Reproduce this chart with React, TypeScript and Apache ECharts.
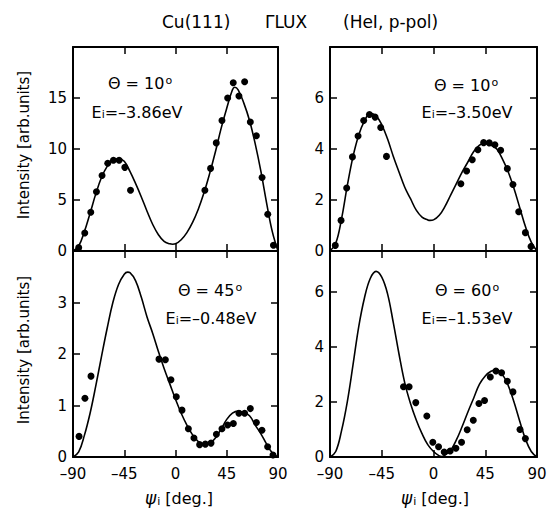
import React, { useEffect, useRef } from "react";
import * as echarts from "echarts";

// ---------- data ----------
const xTickValues = [-90, -45, 0, 45, 90];

// Panel (a): Θ = 10°, Ei = -3.86 eV
const dotsA: number[][] = [
  [-85, 0.33], [-79.7, 1.76], [-74.4, 3.8], [-69.4, 5.8], [-64.5, 7.4], [-59.5, 8.6],
  [-54.5, 8.9], [-49.5, 8.9], [-44.5, 8.2], [-39.5, 5.95],
  [25.8, 5.95], [30.8, 8.1], [35.8, 10.6], [40.8, 12.8], [45.8, 15.0], [50.7, 16.5],
  [55.7, 15.2], [60.7, 16.6], [65.7, 12.65], [71, 11.3], [76, 7.2], [81, 3.6], [86, 0.56],
];
const curveA: number[][] = [
  [-90, 0], [-85, 0.5], [-80, 1.9], [-75, 3.7], [-70, 5.6], [-65, 7.2], [-60, 8.3], [-55, 8.9],
  [-50, 9.05], [-45, 8.8], [-40, 7.8], [-35, 6.6], [-30, 5.3], [-25, 3.9], [-20, 2.6], [-15, 1.6],
  [-10, 0.95], [-5, 0.7], [-2.5, 0.66], [0, 0.7], [5, 1.1], [10, 1.8], [15, 2.8], [20, 4.1],
  [25, 5.7], [30, 7.6], [35, 9.7], [40, 12.0], [45, 14.0], [50, 15.8], [52, 16.05], [55, 15.8],
  [60, 14.5], [65, 12.8], [70, 10.5], [75, 7.8], [80, 4.7], [85, 1.9], [90, 0],
];

// Panel (b): Θ = 10°, Ei = -3.50 eV
const dotsB: number[][] = [
  [-85.4, 0.22], [-80.4, 1.2], [-75.5, 2.47], [-70.5, 3.69], [-65.6, 4.51], [-60.7, 5.12],
  [-55.7, 5.35], [-50.8, 5.25], [-45.9, 4.84], [-40.9, 3.71],
  [23.8, 2.64], [28.8, 3.14], [33.7, 3.58], [38.6, 3.97], [43.6, 4.25], [48.5, 4.24],
  [53.4, 4.17], [58.4, 3.95], [64.2, 3.23], [69.1, 2.61], [74.1, 1.54], [79.9, 0.72], [84.8, 0.18],
];
const curveB: number[][] = [
  [-90, 0], [-85, 0.3], [-80, 1.25], [-75, 2.55], [-70, 3.7], [-65, 4.55], [-60, 5.1], [-55, 5.4],
  [-50, 5.3], [-45, 4.95], [-40, 4.4], [-35, 3.72], [-30, 3.1], [-25, 2.5], [-20, 2.05], [-15, 1.6],
  [-10, 1.33], [-5, 1.22], [-3, 1.2], [0, 1.22], [5, 1.4], [10, 1.75], [15, 2.2], [20, 2.65],
  [25, 3.1], [30, 3.5], [35, 3.9], [40, 4.15], [44, 4.22], [50, 4.15], [55, 4.0], [60, 3.6],
  [65, 3.1], [70, 2.45], [75, 1.7], [80, 0.95], [85, 0.35], [90, 0],
];

// Panel (c): Θ = 45°, Ei = -0.48 eV
const dotsC: number[][] = [
  [-84.7, 0.4], [-79.5, 1.14], [-74.2, 1.57],
  [-14.5, 1.9], [-8.9, 1.89], [-4.0, 1.5], [0.7, 1.17], [5.7, 0.91], [11.3, 0.55], [16.2, 0.37],
  [21.2, 0.24], [26.2, 0.25], [31.2, 0.27], [35.9, 0.44], [40.8, 0.55], [45.8, 0.62],
  [50.8, 0.65], [55.7, 0.85], [60.7, 0.85], [65.7, 0.94], [71, 0.67], [75.9, 0.52],
  [80.9, 0.2], [85.6, 0.04],
];
const curveC: number[][] = [
  [-90, 0], [-85, 0.1], [-80, 0.42], [-75, 0.85], [-70, 1.38], [-65, 1.95], [-60, 2.5], [-55, 3.0],
  [-50, 3.35], [-45, 3.55], [-42, 3.59], [-40, 3.58], [-35, 3.42], [-30, 3.1], [-25, 2.72],
  [-20, 2.4], [-15, 2.05], [-10, 1.72], [-5, 1.42], [0, 1.12], [5, 0.85], [10, 0.62], [15, 0.43],
  [20, 0.3], [25, 0.24], [30, 0.26], [35, 0.37], [40, 0.54], [45, 0.73], [50, 0.85], [55, 0.89],
  [60, 0.86], [65, 0.8], [70, 0.62], [75, 0.45], [80, 0.25], [85, 0.08], [90, 0],
];

// Panel (d): Θ = 60°, Ei = -1.53 eV
const dotsD: number[][] = [
  [-26.1, 2.56], [-21.2, 2.56], [-15.4, 1.98], [-5.8, 1.49], [-0.6, 0.54], [4.4, 0.37],
  [9.3, 0.18], [14.5, 0.22], [19.5, 0.32], [24.4, 0.54], [29.3, 0.99], [34.6, 1.34],
  [39.5, 1.95], [44.4, 2.06], [49.4, 2.91], [54.3, 3.13], [59.2, 3.07], [64.2, 2.76],
  [69.1, 2.37], [75.2, 1.0], [79.9, 0.67],
];
const curveD: number[][] = [
  [-90, 0], [-85, 0.2], [-80, 0.95], [-75, 2.0], [-70, 3.35], [-65, 4.75], [-60, 5.8], [-55, 6.5],
  [-50, 6.76], [-45, 6.55], [-40, 5.95], [-35, 4.9], [-30, 3.75], [-25, 2.7], [-20, 1.95],
  [-15, 1.35], [-10, 0.85], [-5, 0.45], [0, 0.2], [5, 0.04], [7, 0.02], [10, 0.07], [15, 0.25],
  [20, 0.63], [25, 1.12], [30, 1.65], [35, 2.15], [40, 2.65], [45, 2.95], [50, 3.12], [55, 3.17],
  [60, 3.0], [65, 2.6], [70, 2.0], [75, 1.3], [80, 0.65], [85, 0.2], [90, 0],
];

const yMaxes = [20, 8, 4, 7.5];
const yIntervals = [5, 2, 1, 2];
const thetaLabels = ["10", "10", "45", "60"];
const energyLabels = ["–3.86eV", "–3.50eV", "–0.48eV", "–1.53eV"];
const titleParts = ["Cu(111)", "ΓLUX", "(HeI, p-pol)"];
const yName = "Intensity [arb.units]";
const xName = "[deg.]";

const allDots = [dotsA, dotsB, dotsC, dotsD];
const allCurves = [curveA, curveB, curveC, curveD];

// ---------- layout ----------
const FONT = "DejaVu Sans";
const grids = [
  { left: 73, top: 47, width: 205, height: 204 },
  { left: 330, top: 47, width: 207, height: 204 },
  { left: 73, top: 251, width: 205, height: 206 },
  { left: 330, top: 251, width: 207, height: 206 },
];
const thetaPos = [[140, 83], [466, 85], [210, 290], [467, 290]];
const energyPos = [[137, 112], [467, 112], [211, 318], [467, 318]];

function buildOption() {
  const xAxis: any[] = [];
  const yAxis: any[] = [];
  const series: any[] = [];
  const lineStyle = { color: "#000", width: 2 };
  const tickStyle = { color: "#000", width: 1.5 };
  grids.forEach((_, i) => {
    ["bottom", "top"].forEach((pos) => {
      xAxis.push({
        gridIndex: i,
        type: "value",
        position: pos,
        min: xTickValues[0],
        max: xTickValues[xTickValues.length - 1],
        interval: 45,
        axisLine: { show: true, onZero: false, lineStyle },
        axisTick: { show: true, inside: true, length: 7, lineStyle: tickStyle },
        axisLabel: {
          show: pos === "bottom" && i >= 2,
          fontSize: 15,
          lineHeight: 14,
          fontFamily: FONT,
          color: "#000",
          margin: 10,
          formatter: (v: number) => String(v).replace("-", "–"),
        },
        splitLine: { show: false },
      });
    });
    ["left", "right"].forEach((pos) => {
      yAxis.push({
        gridIndex: i,
        type: "value",
        position: pos,
        min: 0,
        max: yMaxes[i],
        interval: yIntervals[i],
        axisLine: { show: true, onZero: false, lineStyle },
        axisTick: { show: true, inside: true, length: 7, lineStyle: tickStyle },
        axisLabel: {
          show: pos === "left",
          showMaxLabel: false,
          fontSize: 15,
          lineHeight: 14,
          fontFamily: FONT,
          color: "#000",
          margin: 6,
        },
        splitLine: { show: false },
      });
    });
    series.push({
      type: "line",
      xAxisIndex: i * 2,
      yAxisIndex: i * 2,
      data: allCurves[i],
      smooth: 0.4,
      showSymbol: false,
      symbol: "none",
      lineStyle: { color: "#000", width: 1.6 },
      z: 2,
    });
    series.push({
      type: "scatter",
      xAxisIndex: i * 2,
      yAxisIndex: i * 2,
      data: allDots[i],
      symbolSize: 7,
      itemStyle: { color: "#000", opacity: 1 },
      z: 3,
    });
  });

  const graphic: any[] = [];
  const titleX = [162, 265, 343];
  titleParts.forEach((t, k) => {
    graphic.push({
      type: "text",
      x: titleX[k],
      y: 22,
      style: {
        text: t,
        fill: "#000",
        font: `17px '${FONT}'`,
        align: "left",
        verticalAlign: "middle",
        textAlign: "left",
        textVerticalAlign: "middle",
      },
    });
  });
  [149, 354].forEach((cy) => {
    graphic.push({
      type: "text",
      x: 24,
      y: cy - 4,
      rotation: Math.PI / 2,
      style: {
        text: yName,
        fill: "#000",
        font: `15px '${FONT}'`,
        align: "center",
        verticalAlign: "middle",
        textAlign: "center",
        textVerticalAlign: "middle",
      },
    });
  });
  [179, 435].forEach((cx) => {
    graphic.push({
      type: "text",
      x: cx,
      y: 498,
      style: {
        text: `{psi|ψ}{sub|i}{n| ${xName}}`,
        fill: "#000",
        align: "center",
        verticalAlign: "middle",
        textAlign: "center",
        textVerticalAlign: "middle",
        rich: {
          psi: { fontSize: 17, fontFamily: FONT, fontStyle: "italic", fill: "#000", verticalAlign: "middle" },
          sub: { fontSize: 11, fontFamily: FONT, fill: "#000", verticalAlign: "bottom", padding: [0, 0, 0, 1] },
          n: { fontSize: 16, fontFamily: FONT, fill: "#000", verticalAlign: "middle" },
        },
      },
    });
  });
  grids.forEach((_, i) => {
    graphic.push({
      type: "text",
      x: thetaPos[i][0],
      y: thetaPos[i][1],
      style: {
        text: `{n|Θ = ${thetaLabels[i]}}{sup|o}`,
        fill: "#000",
        align: "center",
        verticalAlign: "middle",
        textAlign: "center",
        textVerticalAlign: "middle",
        rich: {
          n: { fontSize: 16, fontFamily: FONT, fill: "#000", verticalAlign: "middle" },
          sup: { fontSize: 11, fontFamily: FONT, fill: "#000", verticalAlign: "top", padding: [0, 0, 0, 1] },
        },
      },
    });
    graphic.push({
      type: "text",
      x: energyPos[i][0],
      y: energyPos[i][1],
      style: {
        text: `{n|E}{sub|i}{n|=${energyLabels[i]}}`,
        fill: "#000",
        align: "center",
        verticalAlign: "middle",
        textAlign: "center",
        textVerticalAlign: "middle",
        rich: {
          n: { fontSize: 16, fontFamily: FONT, fill: "#000", verticalAlign: "middle" },
          sub: { fontSize: 11, fontFamily: FONT, fill: "#000", verticalAlign: "bottom" },
        },
      },
    });
  });

  return {
    animation: false,
    backgroundColor: "#fff",
    grid: grids.map((g) => ({ ...g, containLabel: false })),
    xAxis,
    yAxis,
    series,
    graphic,
  };
}

export default function App() {
  const ref = useRef<HTMLDivElement>(null);
  useEffect(() => {
    if (!ref.current) return;
    const chart = echarts.init(ref.current, undefined, { renderer: "svg" });
    chart.setOption(buildOption() as any);
    return () => chart.dispose();
  }, []);
  return (
    <div
      ref={ref}
      style={{ position: "absolute", left: 0, top: 0, width: 554, height: 510, background: "#fff" }}
    />
  );
}
